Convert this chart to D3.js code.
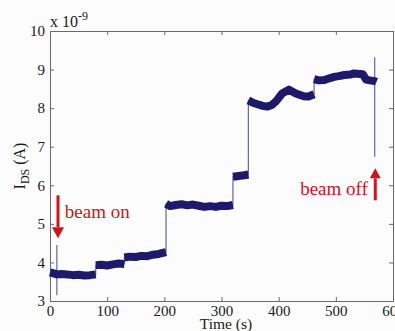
<!DOCTYPE html>
<html>
<head>
<meta charset="utf-8">
<script src="https://cdn.jsdelivr.net/npm/d3@7"></script>
<style>
  body { margin: 0; background: #fcfcfc; }
  svg { display: block; }
  svg text { font-family: "Liberation Serif", "Times New Roman", "DejaVu Serif", serif; }
  .axis path, .axis line { stroke: #6a6a6a; }
  .axis text { font-size: 15px; fill: #1a1a1a; }
</style>
</head>
<body>
<div id="chart"></div>
<script>
// drain current I_DS (units of 1e-9 A) vs time
// each level is one plateau of the trace: [time (s), current]
const levelA = [[0,3.74],[5,3.72],[12,3.69],[20,3.70],[30,3.69],[40,3.67],[50,3.68],[60,3.66],[70,3.67],[80,3.69]];
const levelB = [[80,3.93],[90,3.94],[100,3.92],[110,3.95],[120,3.97],[130,3.96]];
const levelC = [[130,4.13],[140,4.15],[150,4.14],[160,4.17],[170,4.16],[180,4.20],[190,4.22],[203,4.27]];
const levelD = [[203,5.52],[210,5.46],[220,5.49],[230,5.51],[240,5.48],[250,5.50],[260,5.47],[270,5.44],[280,5.46],[290,5.44],[300,5.47],[310,5.46],[320,5.49]];
const levelE = [[320,6.22],[330,6.24],[340,6.26],[347,6.28]];
const levelF = [[347,8.20],[355,8.14],[363,8.10],[372,8.06],[380,8.04],[388,8.08],[395,8.17],[406,8.38],[418,8.48],[430,8.38],[444,8.31],[452,8.30],[462,8.36]];
const levelG = [[462,8.75],[470,8.72],[480,8.73],[490,8.78],[497,8.81],[505,8.83],[515,8.86],[525,8.87],[532,8.90],[547,8.88],[553,8.74],[560,8.72],[568,8.70],[571,8.68]];
const levels = [levelA, levelB, levelC, levelD, levelE, levelF, levelG];

// single-sample spikes when the beam is switched
const spikeOn = [[12,4.45],[12,3.15],[12,3.69]];
const spikeOff = [[568,9.32],[568,6.74],[568,8.70]];

const xTicks = [0,100,200,300,400,500,600];
const yTicks = [3,4,5,6,7,8,9,10];

// annotations: [time, current]
const arrowOn = { from: [14,5.74], tip: [14,4.63], label: "beam on", labelAt: [26,5.15] };
const arrowOff = { from: [569,5.61], tip: [569,6.44], label: "beam off", labelAt: [556,5.74] };

const W = 395, H = 331;
const margin = { top: 31, right: 2, bottom: 30, left: 50 };

const svg = d3.select("#chart").append("svg")
    .attr("width", W).attr("height", H);

const x = d3.scaleLinear().domain([0, 600]).range([margin.left, W - margin.right]);
const y = d3.scaleLinear().domain([3, 10]).range([H - margin.bottom, margin.top]);

// box with inward ticks on all four sides, like matlab
svg.append("g").attr("class", "axis")
    .attr("transform", `translate(0,${H - margin.bottom})`)
    .call(d3.axisBottom(x).tickValues(xTicks).tickFormat(d3.format("d"))
        .tickSizeInner(-4).tickSizeOuter(0).tickPadding(4));
svg.append("g").attr("class", "axis")
    .attr("transform", `translate(${margin.left},0)`)
    .call(d3.axisLeft(y).tickValues(yTicks).tickFormat(d3.format("d"))
        .tickSizeInner(-4).tickSizeOuter(0).tickPadding(5));
svg.append("g").attr("class", "axis")
    .attr("transform", `translate(0,${margin.top})`)
    .call(d3.axisTop(x).tickValues(xTicks).tickSizeInner(-4).tickSizeOuter(0).tickFormat(""));
svg.append("g").attr("class", "axis")
    .attr("transform", `translate(${W - margin.right},0)`)
    .call(d3.axisRight(y).tickValues(yTicks).tickSizeInner(-4).tickSizeOuter(0).tickFormat(""));

const line = d3.line().x(d => x(d[0])).y(d => y(d[1]));

// thin trace through everything (shows the jumps and spikes)
const trace = d3.sort(levels.flat().concat(spikeOn, spikeOff), d => d[0]);
svg.append("path")
    .attr("d", line(trace))
    .attr("fill", "none")
    .attr("stroke", "#6466ab")
    .attr("stroke-width", 1.2);

// thick noisy band for each plateau
svg.selectAll(".level")
    .data(levels)
    .enter()
    .append("path")
    .attr("class", "level")
    .attr("d", d => line(d))
    .attr("fill", "none")
    .attr("stroke", "#1d1a6c")
    .attr("stroke-width", 8)
    .attr("stroke-linejoin", "round")
    .attr("stroke-linecap", "butt");

// red arrows + labels
const red = "#d0141e";
function drawArrow(a, headLen, halfW) {
    const x0 = x(a.from[0]), y0 = y(a.from[1]);
    const xt = x(a.tip[0]), yt = y(a.tip[1]);
    const dir = Math.sign(yt - y0);
    svg.append("line")
        .attr("x1", x0).attr("y1", y0)
        .attr("x2", xt).attr("y2", yt - dir * headLen)
        .attr("stroke", red).attr("stroke-width", 3);
    svg.append("path")
        .attr("d", `M${xt},${yt} L${xt - halfW},${yt - dir * headLen} L${xt + halfW},${yt - dir * headLen} Z`)
        .attr("fill", red);
}
drawArrow(arrowOn, 11, 6);
drawArrow(arrowOff, 10, 5.5);

svg.append("text")
    .attr("x", x(arrowOn.labelAt[0])).attr("y", y(arrowOn.labelAt[1]))
    .attr("font-size", 19).attr("fill", red)
    .text(arrowOn.label);
svg.append("text")
    .attr("x", x(arrowOff.labelAt[0])).attr("y", y(arrowOff.labelAt[1]))
    .attr("text-anchor", "end")
    .attr("font-size", 19).attr("fill", red)
    .text(arrowOff.label);

// axis labels
svg.append("text")
    .attr("x", 226).attr("y", 329)
    .attr("text-anchor", "middle")
    .attr("font-size", 15.5).attr("fill", "#1a1a1a")
    .text("Time (s)");

const yl = svg.append("text")
    .attr("transform", `translate(25,${(margin.top + H - margin.bottom) / 2}) rotate(-90)`)
    .attr("text-anchor", "middle")
    .attr("font-size", 16).attr("fill", "#1a1a1a");
yl.append("tspan").text("I");
yl.append("tspan").attr("font-size", 12).attr("dy", 4).text("DS");
yl.append("tspan").attr("dy", -4).text(" (A)");

// exponent label
const ex = svg.append("text")
    .attr("x", margin.left).attr("y", 26.5)
    .attr("font-size", 16).attr("fill", "#1a1a1a");
ex.append("tspan").text("x 10");
ex.append("tspan").attr("font-size", 12).attr("dy", -7).text("-9");
</script>
</body>
</html>
